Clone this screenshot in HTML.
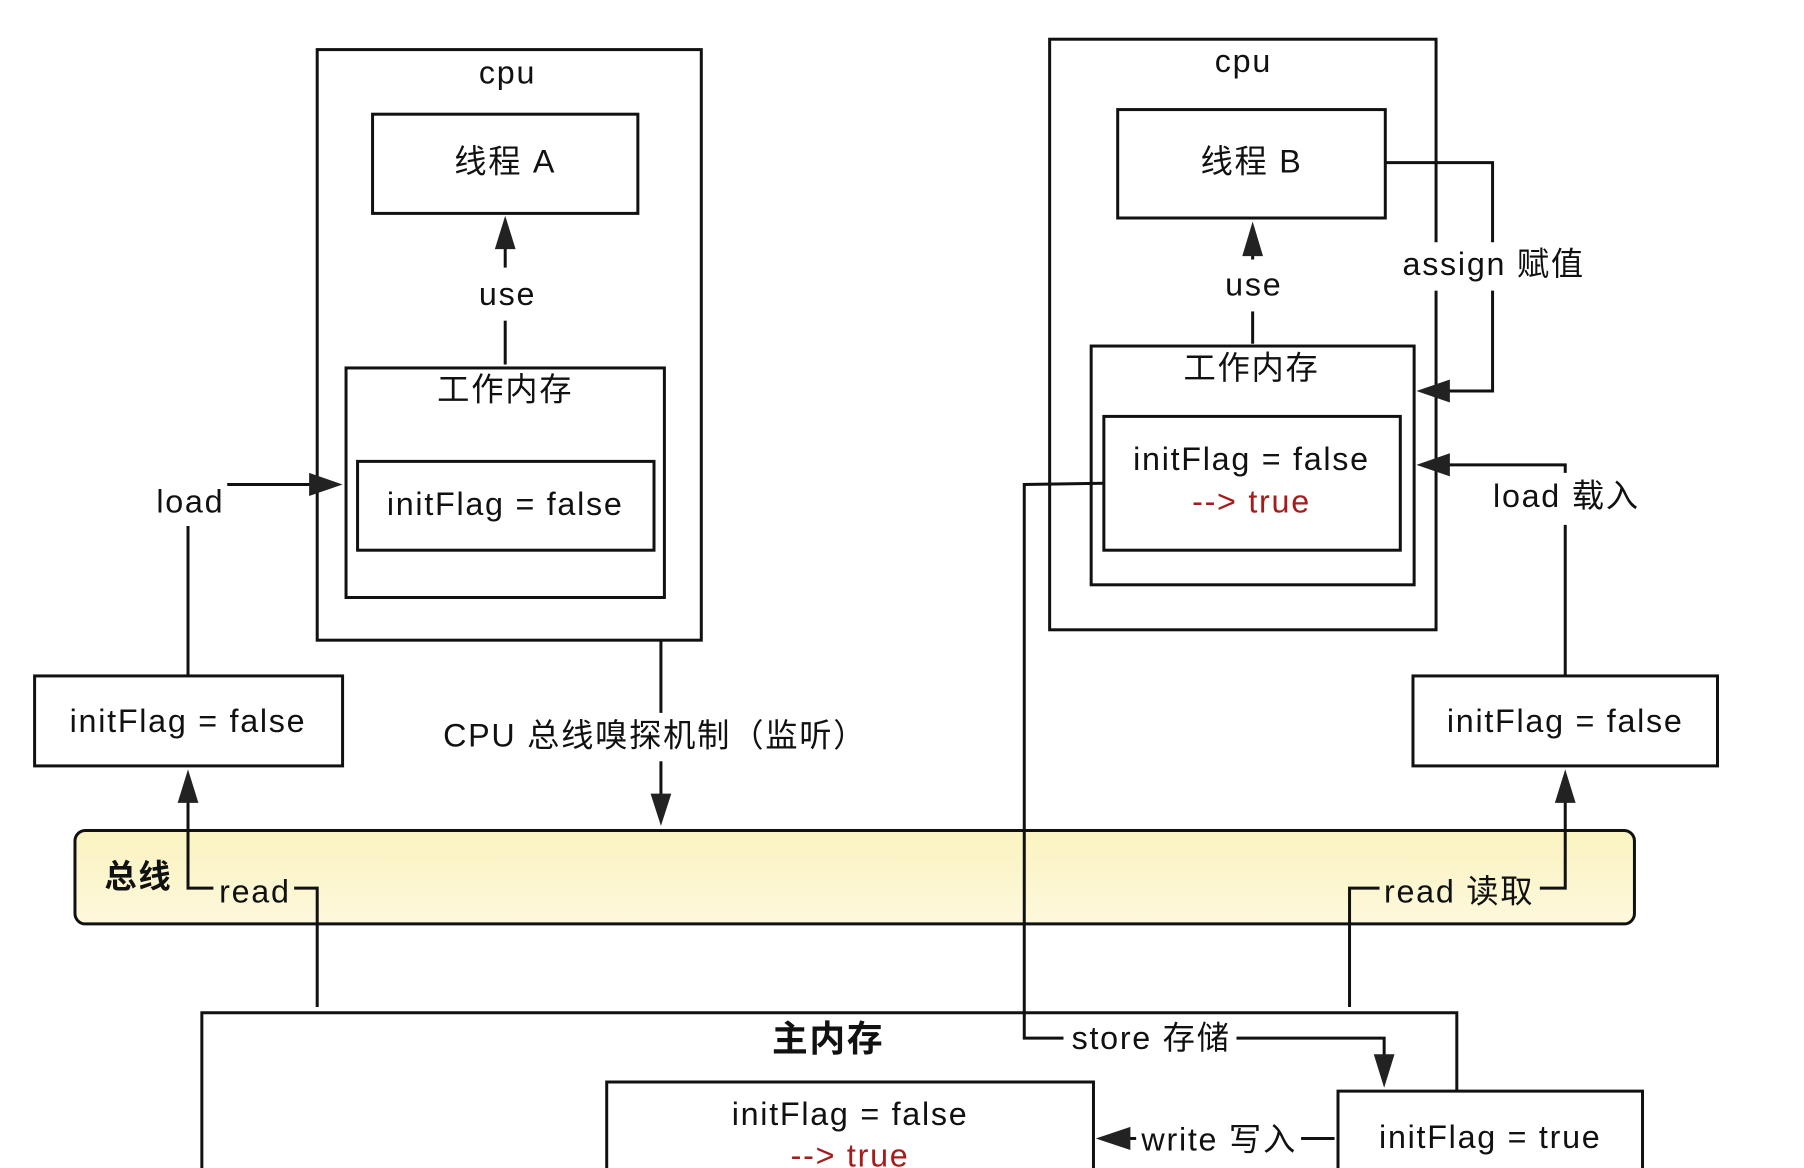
<!DOCTYPE html>
<html><head><meta charset="utf-8"><style>
html,body{margin:0;padding:0;background:#fff;}
svg{display:block;}
text{font-family:"Liberation Sans","Noto Sans CJK SC",sans-serif;font-size:28px;letter-spacing:1.5px;fill:#111;text-anchor:middle;dominant-baseline:middle;}
.r{fill:#a51c1c;}
.b{font-weight:bold;font-size:31px;}
</style></head><body>
<svg width="1804" height="1168" viewBox="0 0 1564 1012.6" preserveAspectRatio="none" xmlns="http://www.w3.org/2000/svg">
<defs>
<linearGradient id="g" x1="0" y1="0" x2="0" y2="1"><stop offset="0" stop-color="#fbf3c0"/><stop offset="1" stop-color="#fdf8dc"/></linearGradient>
</defs>
<g fill="none" stroke="#111" stroke-width="2.6">
<rect x="65" y="720" width="1352" height="81" rx="9" fill="url(#g)"/>
<rect x="275" y="43" width="333" height="512"/>
<rect x="323" y="99" width="230" height="86"/>
<rect x="300" y="319" width="276" height="199"/>
<rect x="310" y="400" width="257" height="77"/>
<line x1="438" y1="232" x2="438" y2="210"/>
<line x1="438" y1="278" x2="438" y2="316"/>
<rect x="30" y="586" width="267" height="78"/>
<polyline points="163,585 163,456"/>
<polyline points="197,420 275,420"/>
<polyline points="163,690 163,770 185,770"/>
<polyline points="255,770 275,770 275,873"/>
<line x1="573" y1="555" x2="573" y2="618"/>
<line x1="573" y1="660" x2="573" y2="690"/>
<rect x="910" y="34" width="335" height="512"/>
<rect x="969" y="95" width="232" height="94"/>
<rect x="946" y="300" width="280" height="207"/>
<rect x="957" y="361" width="257" height="116"/>
<line x1="1086" y1="225" x2="1086" y2="215"/>
<line x1="1086" y1="270" x2="1086" y2="298"/>
<polyline points="1201,141 1294,141 1294,210"/>
<polyline points="1294,252 1294,339 1250,339"/>
<rect x="1225" y="586" width="264" height="78"/>
<polyline points="1357,585 1357,455"/>
<polyline points="1357,410 1357,403 1250,403"/>
<polyline points="1357,690 1357,770 1335,770"/>
<polyline points="1196,770 1170,770 1170,873"/>
<polyline points="957,419 888,420 888,900 922,900"/>
<polyline points="1072,900 1200,900 1200,920"/>
<polyline points="175,1013 175,878 1263,878 1263,946"/>
<polyline points="526,1013 526,938 948,938 948,1013"/>
<polyline points="1160,1013 1160,946 1424,946 1424,1013"/>
<line x1="1157" y1="987" x2="1128" y2="987"/>
<line x1="985" y1="987" x2="975" y2="987"/>
</g>
<rect x="1238" y="210" width="14" height="42" fill="#fff"/>
<g fill="#222">
<polygon points="438,187 429,216 447,216"/>
<polygon points="297,420 268,410 268,430"/>
<polygon points="163,667 154,696 172,696"/>
<polygon points="573,716 564,688 582,688"/>
<polygon points="1086,192 1077,222 1095,222"/>
<polygon points="1228,339 1257,329 1257,349"/>
<polygon points="1228,403 1257,393 1257,413"/>
<polygon points="1357,667 1348,696 1366,696"/>
<polygon points="1200,943 1191,914 1209,914"/>
<polygon points="950,987 980,977 980,997"/>
</g>
<text x="440" y="65">cpu</text>
<text x="438" y="142">线程 A</text>
<text x="440" y="257">use</text>
<text x="438" y="340">工作内存</text>
<text x="438" y="439">initFlag = false</text>
<text x="165" y="437">load</text>
<text x="163" y="627">initFlag = false</text>
<text x="568" y="640">CPU 总线嗅探机制（监听）</text>
<text x="120" y="762" style="font-weight:bold">总线</text>
<text x="221" y="775">read</text>
<text x="1078" y="55">cpu</text>
<text x="1085" y="142">线程 B</text>
<text x="1087" y="249">use</text>
<text x="1085" y="321">工作内存</text>
<text x="1085" y="400">initFlag = false</text>
<text x="1085" y="437" class="r">--&gt; true</text>
<text x="1295" y="231">assign 赋值</text>
<text x="1358" y="432">load 载入</text>
<text x="1357" y="627">initFlag = false</text>
<text x="1265" y="775">read 读取</text>
<text x="998" y="902">store 存储</text>
<text x="718" y="903" class="b">主内存</text>
<text x="737" y="968">initFlag = false</text>
<text x="737" y="1004" class="r">--&gt; true</text>
<text x="1292" y="988">initFlag = true</text>
<text x="1057" y="990">write 写入</text>
</svg>
</body></html>
